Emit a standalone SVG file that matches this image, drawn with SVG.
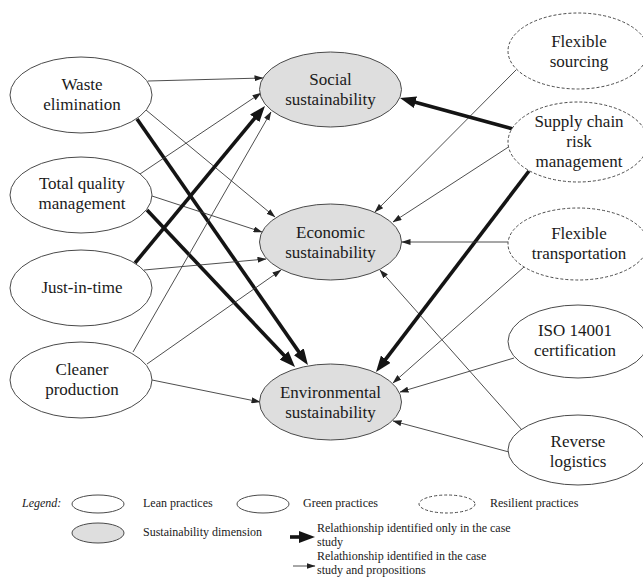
<svg xmlns="http://www.w3.org/2000/svg" width="643" height="578" viewBox="0 0 643 578">
  <style>
    .practice { fill: #ffffff; stroke: #4a4a4a; stroke-width: 1; }
    .resilient { fill: #ffffff; stroke: #4a4a4a; stroke-width: 1; stroke-dasharray: 3 2; }
    .dimension { fill: #dedede; stroke: #4a4a4a; stroke-width: 1; }
    .label { font-size: 17px; fill: #1a1a1a; text-anchor: middle; }
    .legend { font-size: 12px; fill: #1a1a1a; }
    .thin { fill: none; stroke: #3a3a3a; stroke-width: 0.9; marker-end: url(#head-thin); }
    .thick { fill: none; stroke: #141414; stroke-width: 3.6; marker-end: url(#head-thick); }
  </style>
  <defs>
    <marker id="head-thin" markerUnits="userSpaceOnUse" viewBox="0 0 9 6" markerWidth="9" markerHeight="6" refX="8.5" refY="3" orient="auto">
      <path d="M0,0 L9,3 L0,6 z" fill="#222222"/>
    </marker>
    <marker id="head-thick" markerUnits="userSpaceOnUse" viewBox="0 0 16 12" markerWidth="16" markerHeight="12" refX="4" refY="6" orient="auto">
      <path d="M0,0 L16,6 L0,12 z" fill="#141414"/>
    </marker>
  </defs>

  <rect x="0" y="0" width="643" height="578" fill="#ffffff"/>

  <!-- connectors -->
  <g id="connectors">
    <!-- lean practices -->
    <line class="thin" x1="148" y1="81" x2="263" y2="78"/>
    <line class="thin" x1="146" y1="110" x2="275" y2="217"/>
    <line class="thick" x1="137" y1="119" x2="301.1" y2="355.1"/>
    <line class="thin" x1="140" y1="174" x2="261" y2="93"/>
    <line class="thin" x1="152" y1="196" x2="262" y2="232"/>
    <line class="thick" x1="147" y1="210" x2="286.8" y2="358.3"/>
    <line class="thick" x1="135" y1="263" x2="257.3" y2="115.2"/>
    <line class="thin" x1="144" y1="270" x2="266" y2="259"/>
    <!-- green practices -->
    <line class="thin" x1="133" y1="352" x2="271" y2="112"/>
    <line class="thin" x1="147" y1="364" x2="281" y2="270"/>
    <line class="thin" x1="152" y1="380" x2="260" y2="402"/>
    <line class="thin" x1="514" y1="358" x2="400" y2="392"/>
    <line class="thin" x1="522" y1="430" x2="380" y2="270"/>
    <line class="thin" x1="509" y1="452" x2="393" y2="421"/>
    <!-- resilient practices -->
    <line class="thin" x1="516" y1="70" x2="375" y2="212"/>
    <line class="thick" x1="513" y1="129" x2="411.6" y2="101.2"/>
    <line class="thin" x1="510" y1="146" x2="393" y2="222"/>
    <line class="thick" x1="529" y1="171" x2="383.3" y2="362.4"/>
    <line class="thin" x1="508" y1="242" x2="402" y2="242"/>
    <line class="thin" x1="524" y1="267" x2="393" y2="383"/>
  </g>

  <g font-family="Liberation Serif, Times New Roman, DejaVu Serif, serif">
  <!-- lean practices -->
  <g id="waste-elimination">
    <ellipse class="practice" cx="81" cy="95" rx="71" ry="38"/>
    <text class="label" x="82" y="90">Waste</text>
    <text class="label" x="82" y="110">elimination</text>
  </g>
  <g id="total-quality-management">
    <ellipse class="practice" cx="81" cy="195" rx="71" ry="38"/>
    <text class="label" x="82" y="189">Total quality</text>
    <text class="label" x="82" y="209">management</text>
  </g>
  <g id="just-in-time">
    <ellipse class="practice" cx="81" cy="288" rx="71" ry="38"/>
    <text class="label" x="82" y="293">Just-in-time</text>
  </g>

  <!-- green practices -->
  <g id="cleaner-production">
    <ellipse class="practice" cx="81" cy="380" rx="71" ry="38"/>
    <text class="label" x="82" y="375">Cleaner</text>
    <text class="label" x="82" y="395">production</text>
  </g>
  <g id="iso-14001">
    <ellipse class="practice" cx="578" cy="341.5" rx="70" ry="36.5"/>
    <text class="label" x="575" y="336">ISO 14001</text>
    <text class="label" x="575" y="356">certification</text>
  </g>
  <g id="reverse-logistics">
    <ellipse class="practice" cx="578" cy="450" rx="70" ry="35"/>
    <text class="label" x="578" y="447">Reverse</text>
    <text class="label" x="578" y="467">logistics</text>
  </g>

  <!-- resilient practices -->
  <g id="flexible-sourcing">
    <ellipse class="resilient" cx="578" cy="51" rx="70" ry="38"/>
    <text class="label" x="579" y="47">Flexible</text>
    <text class="label" x="579" y="67">sourcing</text>
  </g>
  <g id="supply-chain-risk-management">
    <ellipse class="resilient" cx="578" cy="142" rx="70" ry="40"/>
    <text class="label" x="579" y="127">Supply chain</text>
    <text class="label" x="579" y="147">risk</text>
    <text class="label" x="579" y="167">management</text>
  </g>
  <g id="flexible-transportation">
    <ellipse class="resilient" cx="578" cy="244" rx="70" ry="36"/>
    <text class="label" x="579" y="239">Flexible</text>
    <text class="label" x="579" y="259">transportation</text>
  </g>

  <!-- sustainability dimensions -->
  <g id="social-sustainability">
    <ellipse class="dimension" cx="330.5" cy="89.5" rx="71" ry="37.5"/>
    <text class="label" x="330.5" y="85">Social</text>
    <text class="label" x="330.5" y="105">sustainability</text>
  </g>
  <g id="economic-sustainability">
    <ellipse class="dimension" cx="330.5" cy="242" rx="71" ry="38"/>
    <text class="label" x="330.5" y="238">Economic</text>
    <text class="label" x="330.5" y="258">sustainability</text>
  </g>
  <g id="environmental-sustainability">
    <ellipse class="dimension" cx="330.5" cy="402" rx="71" ry="38"/>
    <text class="label" x="330.5" y="398">Environmental</text>
    <text class="label" x="330.5" y="418">sustainability</text>
  </g>

  <!-- legend -->
  <g id="legend">
    <text class="legend" x="22" y="507" font-size="11" font-style="italic">Legend:</text>
    <ellipse class="practice" cx="98" cy="504" rx="26" ry="9" stroke="#333333"/>
    <text class="legend" x="143" y="507">Lean practices</text>
    <ellipse class="practice" cx="263" cy="504" rx="26" ry="9" stroke="#666666"/>
    <text class="legend" x="303" y="507">Green practices</text>
    <ellipse class="resilient" cx="447" cy="504" rx="28" ry="9"/>
    <text class="legend" x="490" y="507">Resilient practices</text>

    <ellipse class="dimension" cx="98" cy="533" rx="26" ry="10"/>
    <text class="legend" x="143" y="536">Sustainability dimension</text>

    <line class="thick" x1="290" y1="537" x2="303" y2="537"/>
    <text class="legend" x="317" y="532">Relathionship identified only in the case</text>
    <text class="legend" x="317" y="546">study</text>

    <line class="thin" x1="293" y1="566" x2="315" y2="566" stroke="#777777"/>
    <text class="legend" x="317" y="560">Relathionship identified in the case</text>
    <text class="legend" x="317" y="574">study and propositions</text>
  </g>
  </g>
</svg>
